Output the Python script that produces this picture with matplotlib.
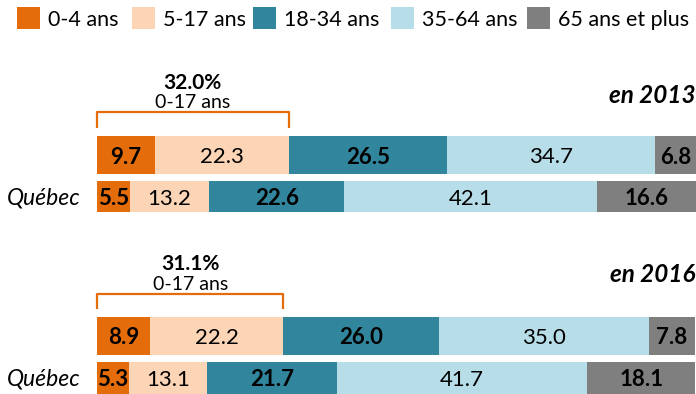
import matplotlib
matplotlib.use("Agg")
import matplotlib.pyplot as plt
from matplotlib.patches import Rectangle

plt.rcParams["font.family"] = ["Lato", "DejaVu Sans"]

# Age groups and their colours
categories = ["0-4 ans", "5-17 ans", "18-34 ans", "35-64 ans", "65 ans et plus"]
colors = ["#E46C0A", "#FBD5B5", "#31859C", "#B7DEE8", "#7F7F7F"]
bold_label = [True, False, True, False, True]

# Population shares (%) by age group
region_2013 = [9.7, 22.3, 26.5, 34.7, 6.8]
quebec_2013 = [5.5, 13.2, 22.6, 42.1, 16.6]
region_2016 = [8.9, 22.2, 26.0, 35.0, 7.8]
quebec_2016 = [5.3, 13.1, 21.7, 41.7, 18.1]

year_labels = ["en 2013", "en 2016"]
quebec_label = "Québec"
youth_label = "0-17 ans"

W, H = 696, 394
fig = plt.figure(figsize=(W / 100, H / 100), dpi=100)
# axes: x in percent, y in pixel rows from the top
ax = fig.add_axes([97 / W, 0, 599 / W, 1])
ax.set_xlim(0, 100)
ax.set_ylim(H, 0)
ax.axis("off")

FS = 16
DY = 2  # nudge text down so digits sit visually centred
orange = colors[0]

def draw_row(values, yc, h):
    left = 0.0
    for v, c, b in zip(values, colors, bold_label):
        ax.barh(yc, v, left=left, height=h, color=c, edgecolor="none")
        ax.text(left + v / 2, yc + DY, f"{v:.1f}", ha="center", va="center",
                fontsize=FS, fontweight="bold" if b else "normal", color="black")
        left += v

groups = [
    (region_2013, quebec_2013, year_labels[0], 155, 196.5, 112, 128, 81, 100, 93),
    (region_2016, quebec_2016, year_labels[1], 336, 378, 294, 309, 262, 283, 273),
]

for reg, qc, year, y1, y2, brk_top, brk_bot, pct_y, sub_y, year_y in groups:
    draw_row(reg, y1, 38)
    draw_row(qc, y2, 31.5)
    ax.text(-2.8, y2 + 1, quebec_label, ha="right", va="center", fontsize=16.5,
            fontstyle="italic", color="black", clip_on=False)
    youth = reg[0] + reg[1]
    ax.plot([0, 0, youth, youth], [brk_bot, brk_top, brk_top, brk_bot],
            color=orange, lw=1.6, solid_joinstyle="round", solid_capstyle="butt",
            clip_on=False)
    ax.text(youth / 2, pct_y + DY, f"{youth:.1f}%", ha="center", va="center",
            fontsize=15, fontweight="bold", color="black")
    ax.text(youth / 2, sub_y + DY, youth_label, ha="center", va="center",
            fontsize=14, color="black")
    ax.text(100, year_y + DY, year, ha="right", va="center", fontsize=17.5,
            fontweight="bold", fontstyle="italic", color="black")

# legend along the top
legend_x = [17, 132, 253, 391, 527]
for x0, cat, c in zip(legend_x, categories, colors):
    fig.add_artist(Rectangle((x0 / W, 1 - 29 / H), 23 / W, 22 / H,
                             transform=fig.transFigure, color=c, lw=0))
    fig.text((x0 + 31) / W, 1 - (18 + DY) / H, cat, ha="left", va="center",
             fontsize=15.5, color="black")

fig.savefig("out.png", dpi=100)
